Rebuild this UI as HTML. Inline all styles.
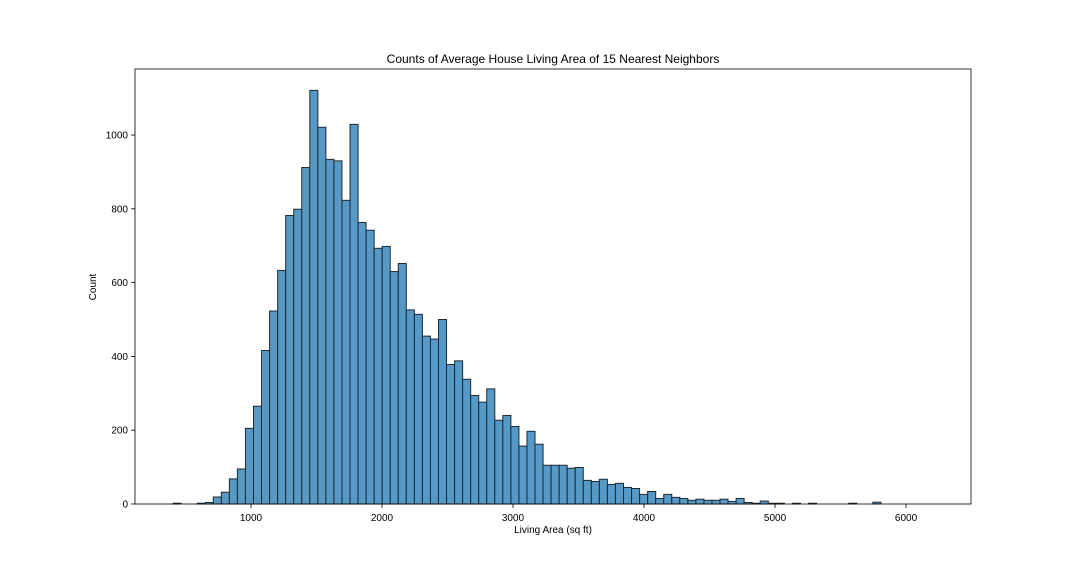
<!DOCTYPE html>
<html><head><meta charset="utf-8"><style>
html,body{margin:0;padding:0;background:#fff;}
svg text{font-family:"Liberation Sans","DejaVu Sans",sans-serif;fill:#000;}
</style></head><body>
<svg id="chart" width="1080" height="576" viewBox="0 0 1080 576" xmlns="http://www.w3.org/2000/svg"></svg>
<script>
const binStart = 405;
const binWidth = 61.4;
const counts = [2,0,0,2,4,19,32,68,95,205,265,416,523,633,782,799,912,1121,1021,934,930,823,1029,763,742,693,698,630,652,526,514,455,447,500,378,388,338,294,276,312,227,240,210,157,197,162,105,105,105,97,99,64,61,67,53,56,45,42,26,34,15,26,18,15,10,13,10,10,13,7,15,4,2,8,2,2,0,2,0,2,0,0,0,0,2,0,0,5];
const xTicks = [1000,2000,3000,4000,5000,6000];
const yTicks = [0,200,400,600,800,1000];

const L=135,R=971,T=69,B=504;
const xMin=114.5,xMax=6496,yMax=1179;
const sx=v=>L+(v-xMin)/(xMax-xMin)*(R-L);
const sy=v=>B-v/yMax*(B-T);
const svg=document.getElementById('chart');
const NS='http://www.w3.org/2000/svg';
function mk(tag,attrs){const e=document.createElementNS(NS,tag);for(const k in attrs)e.setAttribute(k,attrs[k]);svg.appendChild(e);return e;}

counts.forEach((c,i)=>{
  if(c<=0)return;
  const x0=sx(binStart+i*binWidth),x1=sx(binStart+(i+1)*binWidth);
  const r=mk('rect',{x:x0,y:sy(c),width:x1-x0,height:B-sy(c),fill:'#5698c6',stroke:'#1f2a33','stroke-width':1});
  
  
});

const frame=mk('rect',{x:L,y:T,width:R-L,height:B-T,fill:'none',stroke:'#000','stroke-width':0.8});



xTicks.forEach(v=>{
  const x=sx(v);
  const tk=mk('line',{x1:x,x2:x,y1:B,y2:B+4,stroke:'#000','stroke-width':0.8});
  
  
  const t=mk('text',{x:x,y:B+17,'text-anchor':'middle','font-size':10});
  t.textContent=v;
  
  
});
yTicks.forEach(v=>{
  const y=sy(v);
  const tk=mk('line',{x1:L-4,x2:L,y1:y,y2:y,stroke:'#000','stroke-width':0.8});
  
  
  const t=mk('text',{x:L-7,y:y+3.5,'text-anchor':'end','font-size':10});
  t.textContent=v;
  
  
});

const title=mk('text',{x:553,y:63,'text-anchor':'middle','font-size':12});
title.textContent='Counts of Average House Living Area of 15 Nearest Neighbors';


const xl=mk('text',{x:553,y:533,'text-anchor':'middle','font-size':10});
xl.textContent='Living Area (sq ft)';


const yl=mk('text',{x:0,y:0,'text-anchor':'middle','font-size':10,transform:'translate(96,287) rotate(-90)'});
yl.textContent='Count';


</script>
</body></html>
